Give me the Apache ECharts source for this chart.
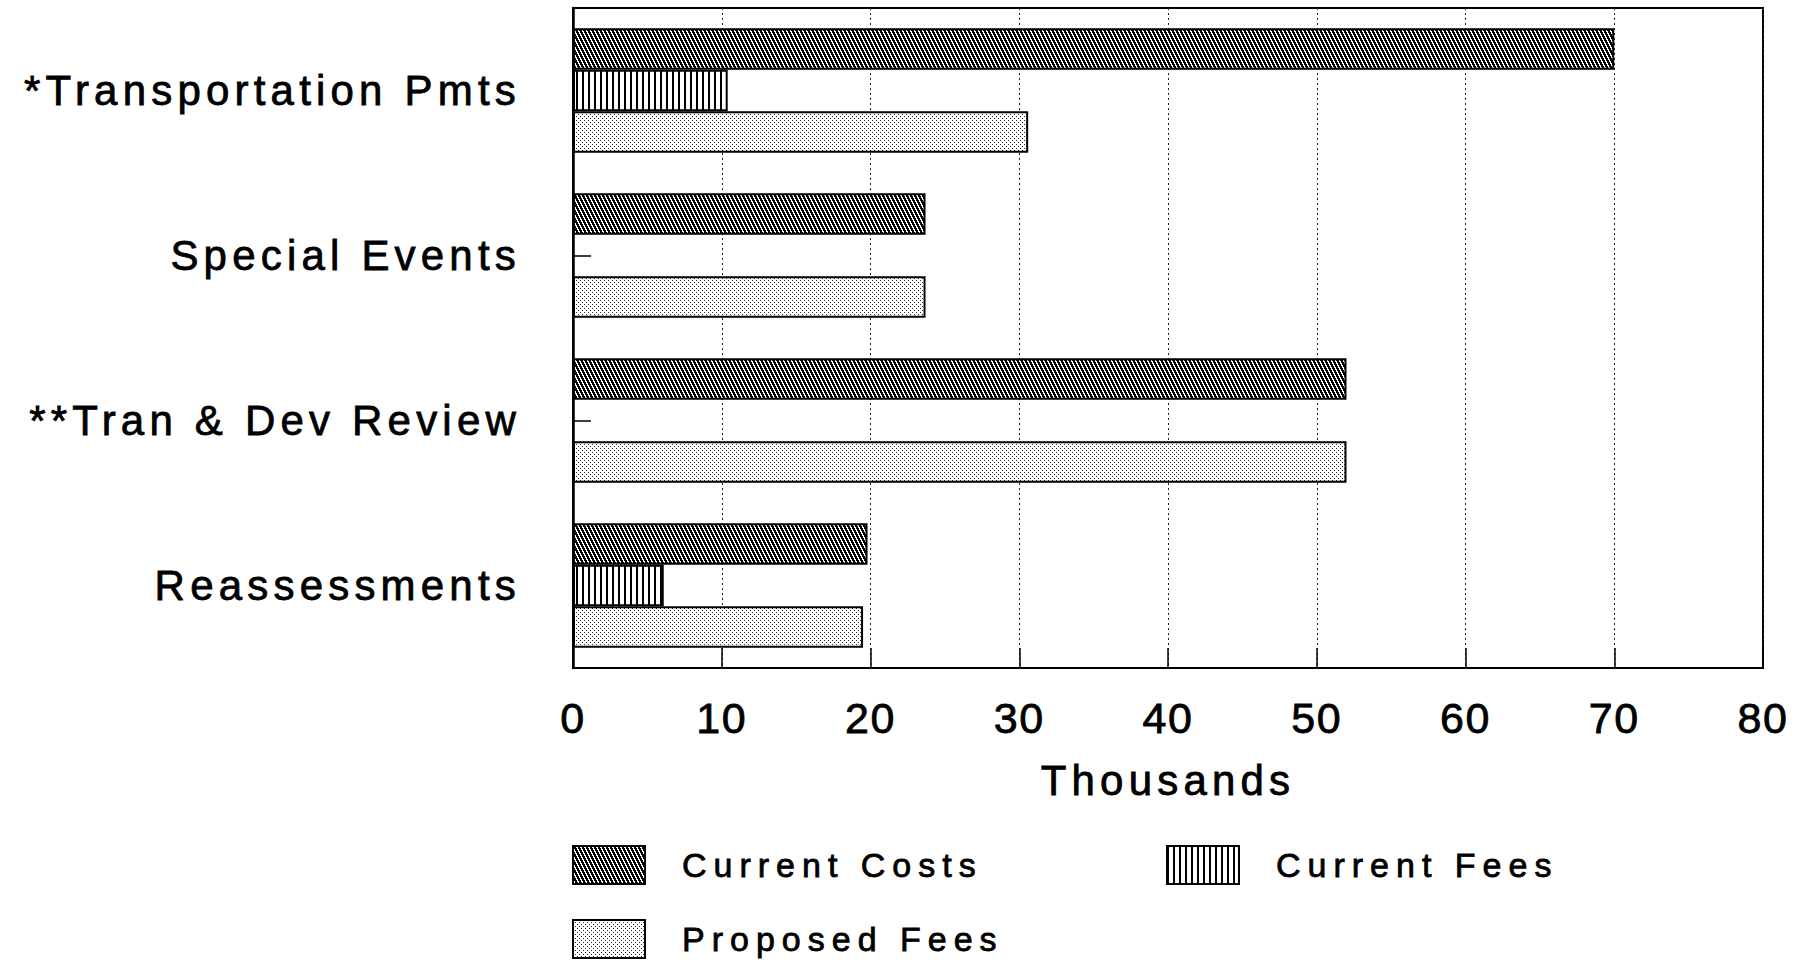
<!DOCTYPE html>
<html>
<head>
<meta charset="utf-8">
<script src="https://cdn.jsdelivr.net/npm/echarts@6/dist/echarts.min.js"></script>
<style>
  html, body { margin: 0; padding: 0; background: #fff; }
  #chart { width: 1812px; height: 963px; }
</style>
</head>
<body>
<div id="chart"></div>
<script>
// values (thousands)
const categories = ['*Transportation Pmts', 'Special Events', '**Tran & Dev Review', 'Reassessments'];
const currentCosts = [70, 23.7, 52, 19.8];
const currentFees = [10.4, 0, 0, 6.1];
const proposedFees = [30.6, 23.7, 52, 19.5];
const xTicks = { min: 0, max: 80, step: 10 };
const legendNames = ['Current Costs', 'Current Fees', 'Proposed Fees'];

const FONT = '"Liberation Sans", Arial, Helvetica, sans-serif';

// small bitmap tiles used as bar fills
function makePattern(w, h, ink, inkValue) {
  const c = document.createElement('canvas');
  c.width = w;
  c.height = h;
  const ctx = c.getContext('2d');
  const img = ctx.createImageData(w, h);
  for (let y = 0; y < h; y++) {
    for (let x = 0; x < w; x++) {
      const i = (y * w + x) * 4;
      const v = ink(x, y) ? inkValue : 255;
      img.data[i] = v;
      img.data[i + 1] = v;
      img.data[i + 2] = v;
      img.data[i + 3] = 255;
    }
  }
  ctx.putImageData(img, 0, 0);
  return { image: c, repeat: 'repeat', imageWidth: w, imageHeight: h };
}

const hatch = makePattern(4, 8, (x, y) => (((2 * x - y) % 8) + 8) % 8 < 5, 0);
const vlines = makePattern(6, 2, (x) => x < 2, 0);
const stipple = makePattern(4, 4, (x, y) => (x === 0 && y === 0) || (x === 2 && y === 2), 40);

// scanned print looks heavier than a plain regular face
const inkText = { color: '#000', textBorderColor: '#000', textBorderWidth: 0.8 };

const legendCommon = {
  icon: 'rect',
  itemWidth: 72,
  itemHeight: 38,
  selectedMode: false,
  textStyle: {
    ...inkText,
    fontSize: 34,
    fontFamily: FONT,
    padding: [18, 0, 0, 32],
  },
};

const barCommon = {
  type: 'bar',
  barGap: '0%',
  barCategoryGap: '24.5%',
  silent: true,
};

const option = {
  animation: false,
  backgroundColor: '#fff',
  grid: {
    left: 573,
    right: 49,
    top: 8,
    bottom: 295,
    show: true,
    borderColor: '#000',
    borderWidth: 2,
    outerBoundsMode: 'none',
  },
  legend: [
    { ...legendCommon, data: ['Current Costs'], left: 567, top: 840 },
    { ...legendCommon, data: ['Current Fees'], left: 1161, top: 840 },
    { ...legendCommon, data: ['Proposed Fees'], left: 567, top: 914 },
  ],
  xAxis: {
    type: 'value',
    min: xTicks.min,
    max: xTicks.max,
    interval: xTicks.step,
    name: 'Thousands',
    nameLocation: 'middle',
    nameGap: 91,
    nameTextStyle: { ...inkText, fontSize: 42, fontFamily: FONT },
    axisLine: { show: true, lineStyle: { color: '#000', width: 2 } },
    axisTick: { show: true, inside: true, length: 20, lineStyle: { color: '#000', width: 1.5 } },
    axisLabel: { ...inkText, fontSize: 43, fontFamily: FONT, margin: 28 },
    splitLine: { show: true, lineStyle: { color: '#222', width: 1, type: [2, 3] } },
  },
  yAxis: {
    type: 'category',
    data: categories,
    inverse: true,
    axisLine: { show: true, lineStyle: { color: '#000', width: 2.5 } },
    axisTick: {
      show: true,
      inside: true,
      length: 18,
      alignWithLabel: true,
      interval: 0,
      lineStyle: { color: '#000', width: 1.5 },
    },
    axisLabel: { ...inkText, fontSize: 42, fontFamily: FONT, margin: 52, interval: 0 },
    splitLine: { show: false },
  },
  series: [
    {
      ...barCommon,
      name: 'Current Costs',
      data: currentCosts,
      itemStyle: { color: hatch, borderColor: '#000', borderWidth: 2 },
    },
    {
      ...barCommon,
      name: 'Current Fees',
      data: currentFees,
      itemStyle: { color: vlines, borderColor: '#000', borderWidth: 2 },
    },
    {
      ...barCommon,
      name: 'Proposed Fees',
      data: proposedFees,
      itemStyle: { color: stipple, borderColor: '#000', borderWidth: 2 },
    },
  ],
};

const chartDom = document.getElementById('chart');
const myChart = echarts.init(chartDom, null, { renderer: 'svg' });
myChart.setOption(option);

// the original type is widely tracked; widen the svg text a bit
function spaceText() {
  chartDom.querySelectorAll('text').forEach((t) => {
    const s = t.textContent.trim();
    let ls = 5.2;
    if (/^\d+$/.test(s)) ls = 1.5;
    else if (legendNames.includes(s)) ls = 7;
    t.setAttribute('letter-spacing', ls + 'px');
  });
}
spaceText();
myChart.on('finished', spaceText);
</script>
</body>
</html>
